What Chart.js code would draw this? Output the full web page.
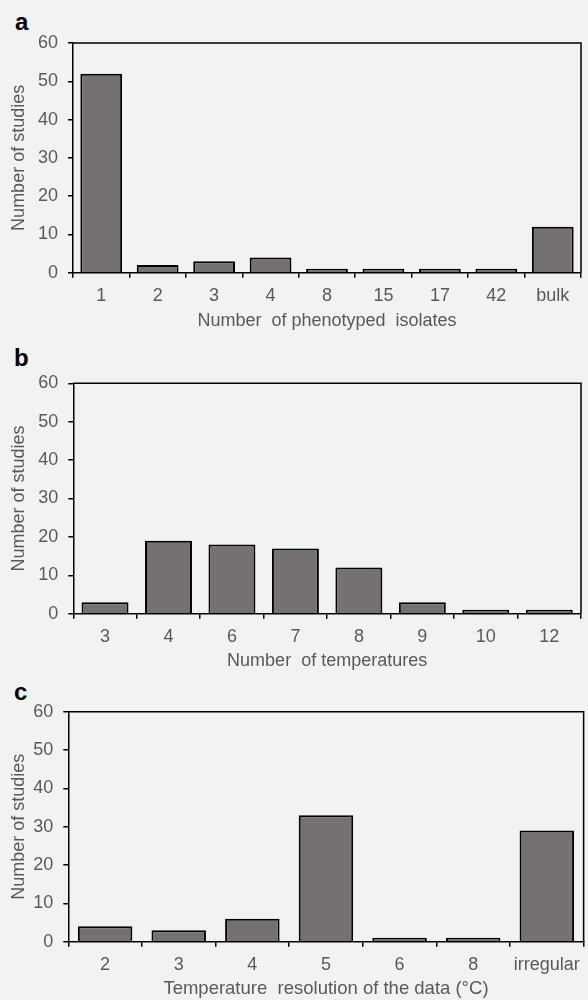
<!DOCTYPE html>
<html>
<head>
<meta charset="utf-8">
<script src="https://cdn.jsdelivr.net/npm/chart.js@4.4.1/dist/chart.umd.min.js"></script>
<style>
  html, body { margin: 0; padding: 0; background: #f2f2f2; }
  body { width: 588px; height: 1000px; position: relative; overflow: hidden; }
  canvas { position: absolute; left: 0; }
  .tag { position: absolute; font-family: "Liberation Sans", Arial, sans-serif; font-weight: bold; font-size: 24px; color: #000; line-height: 1; }
</style>
</head>
<body>
<div class="tag" style="left:15px;top:10px;">a</div>
<div class="tag" style="left:14px;top:346px;">b</div>
<div class="tag" style="left:14px;top:680px;">c</div>
<canvas id="chartA" width="588" height="334" style="top:0px"></canvas>
<canvas id="chartB" width="588" height="334" style="top:340px"></canvas>
<canvas id="chartC" width="588" height="334" style="top:668px"></canvas>
<script>
// Panel a: number of phenotyped isolates per study
const isolateCategories = ['1', '2', '3', '4', '8', '15', '17', '42', 'bulk'];
const isolateStudies = [52, 2, 3, 4, 1, 1, 1, 1, 12];

// Panel b: number of assay temperatures per study
const temperatureCategories = ['3', '4', '6', '7', '8', '9', '10', '12'];
const temperatureStudies = [3, 19, 18, 17, 12, 3, 1, 1];

// Panel c: temperature step between measurements
const resolutionCategories = ['2', '3', '4', '5', '6', '8', 'irregular'];
const resolutionStudies = [4, 3, 6, 33, 1, 1, 29];

const yTicks = [0, 10, 20, 30, 40, 50, 60];

const FONT = '"Liberation Sans", Arial, sans-serif';
const TEXT = '#595959';
const BAR = '#757171';

// Draws the top and right edges of the plot box
const framePlugin = {
  id: 'frame',
  afterDraw(chart) {
    const { ctx, chartArea: a } = chart;
    ctx.save();
    ctx.strokeStyle = '#000';
    ctx.lineWidth = 1.5;
    ctx.beginPath();
    ctx.moveTo(a.left, a.top);
    ctx.lineTo(a.right, a.top);
    ctx.lineTo(a.right, a.bottom);
    ctx.stroke();
    ctx.restore();
  }
};

function makePanel(id, labels, values, xTitle, titleSize, box) {
  new Chart(document.getElementById(id), {
    type: 'bar',
    data: {
      labels: labels,
      datasets: [{
        data: values,
        backgroundColor: BAR,
        borderColor: '#000',
        borderWidth: 2,
        borderSkipped: 'start',
        categoryPercentage: 1,
        barPercentage: 0.74
      }]
    },
    options: {
      responsive: false,
      animation: false,
      events: [],
      layout: { padding: { top: box.top, right: 588 - box.right, left: 0, bottom: 0 } },
      plugins: { legend: { display: false }, tooltip: { enabled: false } },
      scales: {
        x: {
          offset: true,
          afterFit(scale) { scale.height = 334 - box.bottom; },
          grid: { offset: true, drawOnChartArea: false, drawTicks: true, tickLength: 5, color: '#000', lineWidth: 1.5 },
          border: { display: true, color: '#000', width: 1.5 },
          ticks: { color: TEXT, font: { family: FONT, size: 18 }, padding: 8, maxRotation: 0, autoSkip: false },
          title: { display: true, text: xTitle, color: TEXT, font: { family: FONT, size: titleSize }, padding: { top: 0, bottom: 2 } }
        },
        y: {
          min: 0,
          max: 60,
          afterFit(scale) { scale.width = box.left; },
          afterBuildTicks(scale) { scale.ticks = yTicks.map(v => ({ value: v })); },
          grid: { drawOnChartArea: false, drawTicks: true, tickLength: 5, color: '#000', lineWidth: 1.5 },
          border: { display: true, color: '#000', width: 1.5 },
          ticks: { color: TEXT, font: { family: FONT, size: 18 }, padding: 10 },
          title: { display: true, text: 'Number of studies', color: TEXT, font: { family: FONT, size: 18 }, padding: { top: 8, bottom: 0 } }
        }
      }
    },
    plugins: [framePlugin]
  });
}

makePanel('chartA', isolateCategories, isolateStudies, 'Number  of phenotyped  isolates', 18,
  { left: 73, right: 581, top: 43, bottom: 272.7 });
makePanel('chartB', temperatureCategories, temperatureStudies, 'Number  of temperatures', 18,
  { left: 73.3, right: 581, top: 43.3, bottom: 273.7 });
makePanel('chartC', resolutionCategories, resolutionStudies, 'Temperature  resolution of the data (°C)', 18.5,
  { left: 68.3, right: 585.7, top: 43.7, bottom: 273.7 });
</script>
</body>
</html>
